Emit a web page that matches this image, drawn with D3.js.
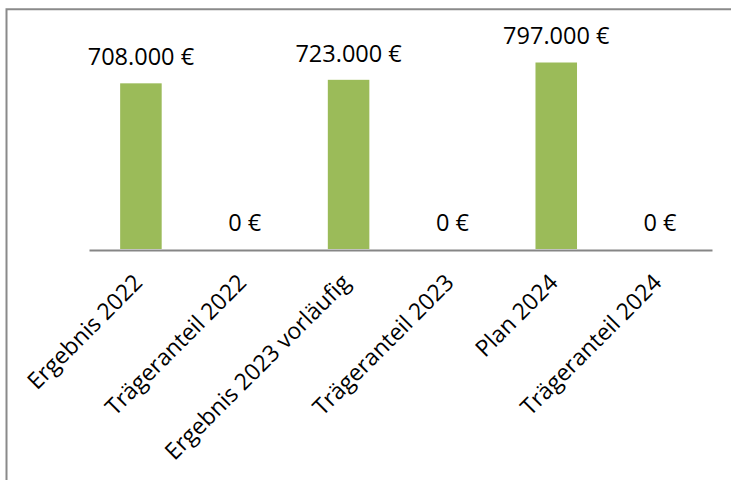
<!DOCTYPE html>
<html>
<head>
<meta charset="utf-8">
<script src="https://cdn.jsdelivr.net/npm/d3@7"></script>
<style>
  html, body { margin: 0; padding: 0; background: #fff; }
  svg { display: block; }
  text { font-family: "Open Sans", sans-serif; fill: #000; }
</style>
</head>
<body>
<div id="chart"></div>
<script>
const categories = ["Ergebnis 2022", "Trägeranteil 2022", "Ergebnis 2023 vorläufig", "Trägeranteil 2023", "Plan 2024", "Trägeranteil 2024"];
const values = [708000, 0, 723000, 0, 797000, 0];
const valueLabels = ["708.000 €", "0 €", "723.000 €", "0 €", "797.000 €", "0 €"];

const W = 731, H = 480;
const svg = d3.select("#chart").append("svg").attr("width", W).attr("height", H);

// outer chart border (only left and top visible in the frame)
svg.append("path")
  .attr("d", `M6.5,${H} L6.5,9.3 L${W},9.3`)
  .attr("fill", "none").attr("stroke", "#8a8a8a").attr("stroke-width", 2);

const x = d3.scaleBand().domain(categories).range([89, 712]).padding(0);
const y = d3.scaleLinear().domain([0, 900000]).range([249, 38.4]);
const barW = x.bandwidth() / 2.5;

svg.append("g").selectAll("rect").data(values).join("rect")
  .attr("x", (d, i) => x(categories[i]) + x.bandwidth() / 2 - barW / 2)
  .attr("y", d => y(d))
  .attr("width", barW)
  .attr("height", d => y(0) - y(d))
  .attr("fill", "#9BBB59");

// axis
const axis = d3.axisBottom(x).tickSize(0).tickPadding(0);
const gx = svg.append("g").attr("transform", `translate(0,${y(0) + 1})`).call(axis);
gx.select(".domain").attr("stroke", "#868686").attr("stroke-width", 2);
gx.selectAll(".tick text")
  .attr("font-family", "'Open Sans', sans-serif")
  .attr("font-size", 23)
  .attr("fill", "#000")
  .attr("text-anchor", "end")
  .attr("dy", 0)
  .attr("y", 0)
  .attr("transform", "translate(3,34) rotate(-45)");

// value labels
svg.append("g").selectAll("text").data(values).join("text")
  .attr("x", (d, i) => x(categories[i]) + x.bandwidth() / 2)
  .attr("y", d => y(d) - 18.3)
  .attr("text-anchor", "middle")
  .attr("font-size", 23.5)
  .text((d, i) => valueLabels[i]);
</script>
</body>
</html>
